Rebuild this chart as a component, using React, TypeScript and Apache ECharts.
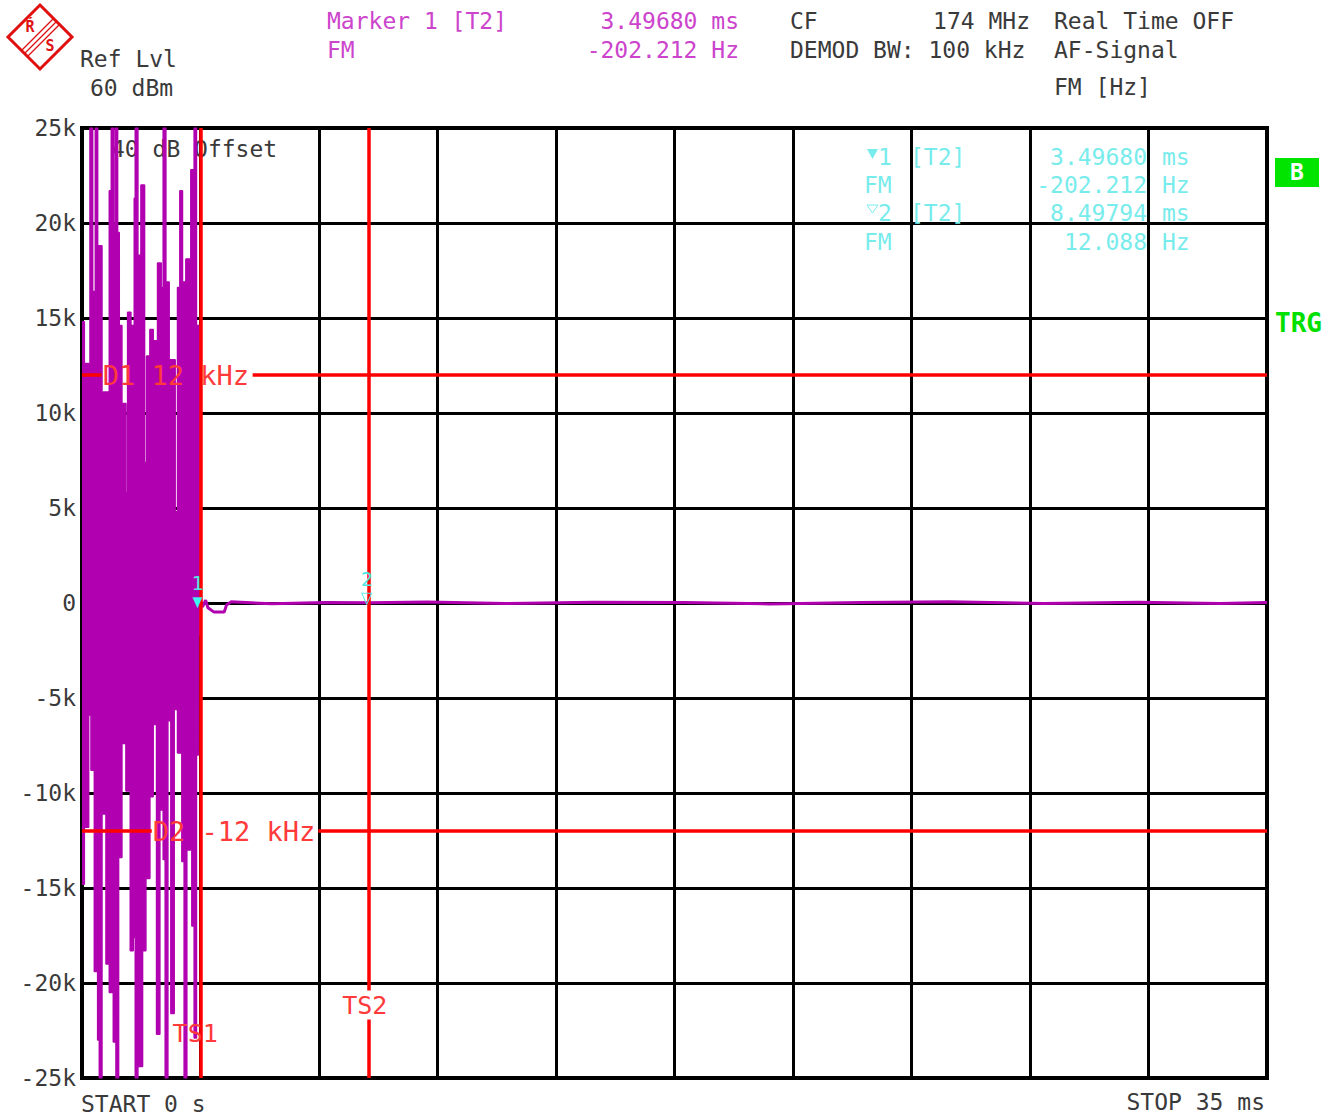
import React, { useEffect, useRef } from "react";
import * as echarts from "echarts";

const FONT = '"DejaVu Sans Mono", monospace';
const MAG = "#b000b0";
const RED = "#ff0000";
const RED_TXT = "#ff3a3a";
const GREY = "#3a3a3a";
const HDR_MAG = "#cc44cc";
const CYAN = "#78ecec";
const GREEN = "#00e000";

// Axis ranges
const TIME_MIN = 0;
const TIME_MAX = 35; // ms
const TIME_STEP = 3.5;
const FREQ_MIN = -25000;
const FREQ_MAX = 25000;
const FREQ_STEP = 5000;

// FM burst (0 .. 3.5 ms): upper envelope of the demodulated signal
const burstUpperTime = [0, 0.069, 0.197, 0.236, 0.315, 0.393, 0.462, 0.59, 0.629, 0.806, 0.865, 0.934, 0.983, 1.052, 1.101, 1.179, 1.297, 1.347, 1.445, 1.543, 1.573, 1.651, 1.74, 1.848, 1.907, 2.005, 2.103, 2.231, 2.339, 2.398, 2.477, 2.575, 2.752, 2.821, 2.89, 2.968, 3.067, 3.214, 3.312, 3.381, 3.509];
const burstUpperKHz = [14.8, 12.6, 6.3, 25, 16.4, 25, 18.8, 9.0, 11.1, 21.7, 25, 20, 25, 19.5, 14.6, 10.5, 5.8, 15.3, 14.6, 21.3, 25, 18.3, 22, 7.4, 13, 14.4, 13.8, 17.9, 16.6, 25, 16.9, 12.8, 4.8, 16.6, 21.7, 16.9, 18.1, 22.8, 25, 14.6, 0];
// lower envelope
const burstLowerTime = [0, 0.069, 0.197, 0.265, 0.364, 0.462, 0.511, 0.59, 0.708, 0.806, 0.924, 1.003, 1.081, 1.179, 1.297, 1.425, 1.514, 1.573, 1.651, 1.789, 1.887, 2.005, 2.103, 2.202, 2.3, 2.398, 2.457, 2.536, 2.624, 2.723, 2.821, 2.949, 3.017, 3.096, 3.244, 3.312, 3.381, 3.44, 3.509];
const burstLowerKHz = [-14.8, -11.8, -5.9, -8.8, -19.4, -23, -25, -11.1, -19, -20.5, -23.1, -25, -13.4, -7.4, -9.9, -18.3, -17.6, -25, -24.4, -18.3, -14.5, -10.2, -6.4, -22.7, -10.9, -13.5, -25, -6.2, -21.6, -5.6, -7.9, -13.6, -25, -13, -17, -22.9, -8, -1.7, 0];

// Settled trace after the burst
const traceTime = [3.509, 3.56, 3.65, 3.72, 3.9, 4.2, 4.27, 4.4, 5.6, 7.2, 8.498, 10.2, 12.5, 15.1, 17.8, 20.3, 23.0, 25.6, 28.4, 31.2, 33.6, 35];
const traceHz = [0, -202, 150, -250, -480, -480, -100, 60, -40, 30, 12, 50, -30, 40, 20, -50, 30, 60, -20, 40, -30, 20];

// Markers
const markerTime = [3.4968, 8.49794];
const markerHz = [-202.212, 12.088];
const markerNames = ["1", "2"];

// Display lines (Hz) and time lines (ms)
const displayLineHz = [12000, -12000];
const displayLineNames = ["D1 12 kHz", "D2 -12 kHz"];
const timeLineMs = [3.52, 8.47];
const timeLineNames = ["TS1", "TS2"];

// Gaps in the display lines where their labels sit (ms) – layout only
const displayGapMs = [
  [0.58, 5.04],
  [2.06, 6.98],
];

const fmtY = (v: number) => (v === 0 ? "0" : `${v / 1000}k`);

const txt = (
  text: string,
  x: number,
  y: number,
  fill: string,
  size = 23,
  align = "left",
  extra: any = {}
) => ({
  type: "text",
  x,
  y,
  z: 100,
  silent: true,
  style: {
    text,
    fill,
    fontFamily: FONT,
    fontSize: size,
    textAlign: align,
    align,
    textVerticalAlign: "middle",
    verticalAlign: "middle",
    ...extra,
  },
});

export default function App() {
  const ref = useRef<HTMLDivElement>(null);

  useEffect(() => {
    const el = ref.current!;
    const chart = echarts.init(el, null, { renderer: "svg" });

    const upper = burstUpperTime.map((t, i) => [t, burstUpperKHz[i] * 1000]);
    const lower = burstLowerTime.map((t, i) => [t, burstLowerKHz[i] * 1000]);
    const trace = traceTime.map((t, i) => [t, traceHz[i]]);

    const redLine = { color: RED, width: 3.5, type: "solid" };

    const markLineData: any[] = [];
    timeLineMs.forEach((t) => markLineData.push({ xAxis: t, lineStyle: redLine }));
    displayLineHz.forEach((hz, i) => {
      markLineData.push([
        { coord: [TIME_MIN, hz], lineStyle: redLine },
        { coord: [displayGapMs[i][0], hz] },
      ]);
      markLineData.push([
        { coord: [displayGapMs[i][1], hz], lineStyle: redLine },
        { coord: [TIME_MAX, hz] },
      ]);
    });

    const markPointData = markerTime.map((t, i) => ({
      coord: [t, markerHz[i]],
      symbol: "triangle",
      symbolRotate: 180,
      symbolSize: [10, 11],
      symbolOffset: [-3, -4],
      itemStyle:
        i === 0
          ? { color: "#40f2f2" }
          : { color: "rgba(0,0,0,0)", borderColor: "#60e8e8", borderWidth: 1 },
      label: {
        show: true,
        formatter: markerNames[i],
        position: "top",
        distance: 4,
        color: "#50e6e6",
        fontFamily: FONT,
        fontSize: 20,
      },
    }));

    const staticGraphic: any[] = [
      // R&S logo
      {
        type: "polygon",
        z: 100,
        shape: { points: [[40, 5], [72, 37], [40, 69], [8, 37]] },
        style: { fill: "#fff", stroke: "#e01010", lineWidth: 3 },
      },
      {
        type: "line",
        z: 101,
        shape: { x1: 21, y1: 51, x2: 54, y2: 18 },
        style: { stroke: "#e01010", lineWidth: 1.3 },
      },
      {
        type: "line",
        z: 101,
        shape: { x1: 24, y1: 54, x2: 57, y2: 21 },
        style: { stroke: "#e01010", lineWidth: 1.3 },
      },
      {
        type: "line",
        z: 101,
        shape: { x1: 27, y1: 57, x2: 60, y2: 24 },
        style: { stroke: "#e01010", lineWidth: 1.3 },
      },
      txt("Ŕ", 30, 27, "#e01010", 15, "center", { fontWeight: "bold" }),
      txt("S", 50, 46, "#e01010", 15, "center", { fontWeight: "bold" }),

      // header
      txt("Ref Lvl", 80, 59, GREY),
      txt("60 dBm", 90, 88, GREY),
      txt("Marker 1 [T2]", 327, 21, HDR_MAG),
      txt("FM", 327, 50, HDR_MAG),
      txt("3.49680 ms", 739, 21, HDR_MAG, 23, "right"),
      txt("-202.212 Hz", 739, 50, HDR_MAG, 23, "right"),
      txt("CF", 790, 21, GREY),
      txt("174 MHz", 1030, 21, GREY, 23, "right"),
      txt("DEMOD BW: 100 kHz", 790, 50, GREY),
      txt("Real Time OFF", 1054, 21, GREY),
      txt("AF-Signal", 1054, 50, GREY),
      txt("FM [Hz]", 1054, 87, GREY),

      // right side indicators
      {
        type: "rect",
        z: 100,
        shape: { x: 1275, y: 158, width: 44, height: 29 },
        style: { fill: "#00e400" },
      },
      txt("B", 1297, 172, "#ffffff", 23, "center", { fontWeight: "bold" }),
      txt("TRG", 1275, 323, GREEN, 26, "left", { fontWeight: "bold" }),

      // marker table
      {
        type: "polygon",
        z: 100,
        shape: { points: [[867, 149], [878, 149], [872.5, 159]] },
        style: { fill: CYAN },
      },
      txt("1", 878, 157, CYAN),
      txt("[T2]", 910, 157, CYAN),
      txt("3.49680", 1147, 157, CYAN, 23, "right"),
      txt("ms", 1162, 157, CYAN),
      txt("FM", 864, 185, CYAN),
      txt("-202.212", 1147, 185, CYAN, 23, "right"),
      txt("Hz", 1162, 185, CYAN),
      {
        type: "polygon",
        z: 100,
        shape: { points: [[867, 205], [878, 205], [872.5, 213]] },
        style: { fill: "none", stroke: CYAN, lineWidth: 1 },
      },
      txt("2", 878, 213, CYAN),
      txt("[T2]", 910, 213, CYAN),
      txt("8.49794", 1147, 213, CYAN, 23, "right"),
      txt("ms", 1162, 213, CYAN),
      txt("FM", 864, 242, CYAN),
      txt("12.088", 1147, 242, CYAN, 23, "right"),
      txt("Hz", 1162, 242, CYAN),

      // footer
      txt("START 0 s", 81, 1104, GREY),
      txt("STOP 35 ms", 1265, 1102, GREY, 23, "right"),
    ];

    const offsetText = { ...txt("40 dB Offset", 111, 149, GREY), z: 1 };

    const option: any = {
      animation: false,
      backgroundColor: "#ffffff",
      grid: {
        left: 82,
        top: 128,
        width: 1185,
        height: 950,
        show: true,
        borderColor: "#000000",
        borderWidth: 4,
        backgroundColor: "transparent",
        containLabel: false,
        outerBoundsMode: "none",
      },
      xAxis: {
        type: "value",
        min: TIME_MIN,
        max: TIME_MAX,
        interval: TIME_STEP,
        axisLabel: { show: false },
        axisLine: { show: false },
        axisTick: { show: false },
        splitLine: { show: true, lineStyle: { color: "#000", width: 3 } },
      },
      yAxis: {
        type: "value",
        min: FREQ_MIN,
        max: FREQ_MAX,
        interval: FREQ_STEP,
        axisLabel: {
          formatter: fmtY,
          color: GREY,
          fontFamily: FONT,
          fontSize: 23,
          margin: 6,
          showMinLabel: true,
          showMaxLabel: true,
        },
        axisLine: { show: false },
        axisTick: { show: false },
        splitLine: { show: true, lineStyle: { color: "#000", width: 3 } },
      },
      series: [
        {
          type: "line",
          data: upper,
          step: "end",
          symbol: "none",
          silent: true,
          lineStyle: { color: MAG, width: 1.5 },
          areaStyle: { color: MAG, opacity: 1 },
          z: 3,
        },
        {
          type: "line",
          data: lower,
          step: "end",
          symbol: "none",
          silent: true,
          lineStyle: { color: MAG, width: 1.5 },
          areaStyle: { color: MAG, opacity: 1 },
          z: 3,
        },
        {
          type: "line",
          data: trace,
          symbol: "none",
          silent: true,
          lineStyle: { color: MAG, width: 3 },
          z: 4,
          markLine: {
            silent: true,
            symbol: ["none", "none"],
            label: { show: false },
            lineStyle: redLine,
            data: markLineData,
          },
          markPoint: {
            silent: true,
            data: markPointData,
          },
        },
      ],
      graphic: [offsetText, ...staticGraphic],
    };

    chart.setOption(option);

    // labels anchored to the display / time lines
    const toPx = (p: number[]) =>
      chart.convertToPixel({ xAxisIndex: 0, yAxisIndex: 0 }, p) as number[];
    const lineLabels: any[] = [];
    displayLineHz.forEach((hz, i) => {
      const p = toPx([displayGapMs[i][0], hz]);
      lineLabels.push(txt(displayLineNames[i], p[0] + 1, p[1], RED_TXT, 27));
    });
    const ts1 = toPx([timeLineMs[0], 0]);
    const ts2 = toPx([timeLineMs[1], 0]);
    lineLabels.push(txt(timeLineNames[0], ts1[0] - 6, 1033, RED_TXT, 25, "center"));
    lineLabels.push(
      txt(timeLineNames[1], ts2[0] - 4, 1005, RED_TXT, 25, "center", {
        backgroundColor: "#ffffff",
        padding: [2, 0, 2, 0],
      })
    );

    chart.setOption({ graphic: [offsetText, ...staticGraphic, ...lineLabels] });

    return () => chart.dispose();
  }, []);

  return (
    <div
      ref={ref}
      style={{ position: "absolute", left: 0, top: 0, width: 1324, height: 1118, background: "#fff" }}
    />
  );
}
